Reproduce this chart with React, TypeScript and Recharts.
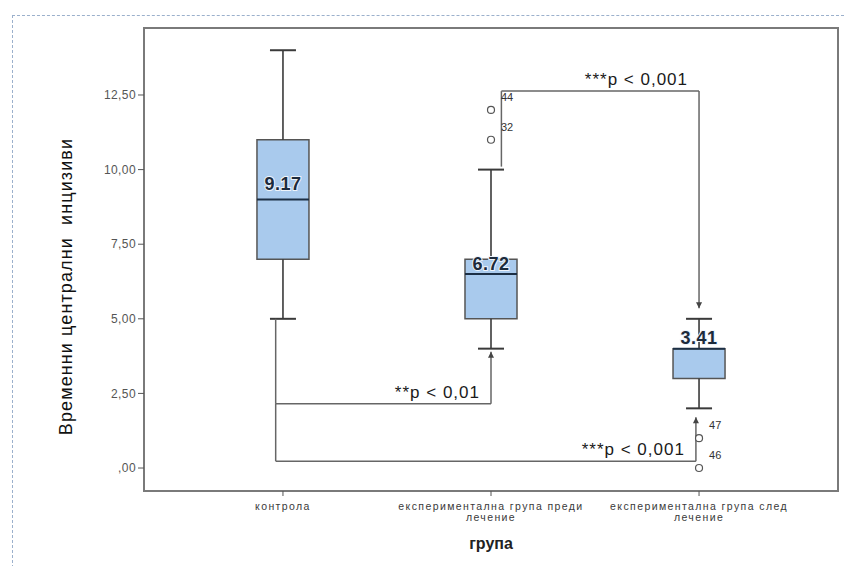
import React from "react";
import {
  ComposedChart,
  XAxis,
  YAxis,
  ReferenceArea,
  ReferenceLine,
  Scatter,
} from "recharts";

const groupLines = [
  ["контрола"],
  ["експериментална група преди", "лечение"],
  ["експериментална група след", "лечение"],
];
const groupIdx = [0, 1, 2];

// box plot statistics per group
const whiskerLow = [5, 4, 2];
const q1 = [7, 5, 3];
const median = [9, 6.5, 4];
const q3 = [11, 7, 4];
const whiskerHigh = [14, 10, 5];
const means = [9.17, 6.72, 3.41];

// outliers (case numbers shown next to them)
const outlierGroup = [1, 1, 2, 2];
const outlierValue = [12, 11, 1, 0];
const outlierCase = ["44", "32", "47", "46"];

const yTicks = [0, 2.5, 5, 7.5, 10, 12.5];

// significance brackets
const bracketText = ["**p < 0,01", "***p < 0,001", "***p < 0,001"];
const bracketFrom = [0, 0, 1];
const bracketTo = [1, 2, 2];
const bracketStart = [5, 2.15, 10.1];
const bracketLevel = [2.15, 0.23, 12.63];
const bracketEnd = [3.9, 1.7, 5.35];

// style
const X_DOMAIN: [number, number] = [-0.668, 2.668];
const Y_DOMAIN: [number, number] = [-0.77, 14.745];
const fromShift = [-0.035, -0.035, 0.05];
const toShift = [0, -0.015, 0];
const meanDy = [-4, 2.5, -22];
const BOX_HALF = 0.125;
const CAP_HALF = 0.0625;
const FONT = "'Liberation Sans', Arial, sans-serif";
const BOX_FILL = "#a9caed";
const LINE = "#3a3a3a";
const BRACKET = "#666";

const fmtY = (v: number) => (v === 0 ? ",00" : v.toFixed(2).replace(".", ","));

const meanData = means.map((m, i) => ({ x: i, y: m, text: m.toFixed(2) }));
const outlierData = outlierValue.map((v, i) => ({
  x: outlierGroup[i],
  y: v,
  id: outlierCase[i],
}));
const labelData = bracketText.map((t, i) => ({
  x: bracketTo[i] + toShift[i],
  y: bracketLevel[i],
  text: t,
}));
const arrowData = bracketEnd.map((e, i) => ({
  x: bracketTo[i] + toShift[i],
  y: e,
  up: e > bracketLevel[i],
}));

const MeanLabel = (p: any) => (
  <text
    x={p.cx}
    y={p.cy + meanDy[p.payload.x]}
    textAnchor="middle"
    fontFamily={FONT}
    fontSize={18}
    fontWeight={700}
    fill="#1c2b3c"
    stroke="#eef4fb"
    strokeWidth={2}
    paintOrder="stroke"
    letterSpacing={0.5}
  >
    {p.payload.text}
  </text>
);

const OutlierDot = (p: any) => (
  <g>
    <circle cx={p.cx} cy={p.cy} r={3.5} fill="#fff" stroke="#555" strokeWidth={1.2} />
    <text x={p.cx + 10} y={p.cy - 9} fontFamily={FONT} fontSize={11} fill="#333">
      {p.payload.id}
    </text>
  </g>
);

const BracketLabel = (p: any) => (
  <text
    x={p.cx - 11}
    y={p.cy - 6}
    textAnchor="end"
    fontFamily={FONT}
    fontSize={17}
    letterSpacing={1}
    fill="#1a1a1a"
  >
    {p.payload.text}
  </text>
);

const Arrow = (p: any) => {
  const s = p.payload.up ? 1 : -1;
  const { cx, cy } = p;
  return (
    <path
      d={`M${cx},${cy} L${cx - 3},${cy + 6 * s} L${cx + 3},${cy + 6 * s} Z`}
      fill="#444"
    />
  );
};

const XTick = (p: any) => {
  const lines = groupLines[p.payload.value] || [];
  return (
    <g>
      {lines.map((l, k) => (
        <text
          key={k}
          x={p.x}
          y={p.y + 12 + k * 11}
          textAnchor="middle"
          fontFamily={FONT}
          fontSize={10.5}
          letterSpacing={1.4}
          fill="#3a3a3a"
        >
          {l}
        </text>
      ))}
    </g>
  );
};

const YTitle = (p: any) => {
  const vb = p.viewBox || { x: 36, y: 20, width: 100, height: 463 };
  const x = vb.x + 22;
  const y = vb.y + vb.height / 2 + 27;
  return (
    <text
      x={x}
      y={y}
      transform={`rotate(-90 ${x} ${y})`}
      textAnchor="middle"
      dominantBaseline="central"
      fontFamily={FONT}
      fontSize={18}
      letterSpacing={1.1}
      fill="#111"
    >
      Временни централни{"\u00a0\u00a0"}инцизиви
    </text>
  );
};

const XTitle = (p: any) => {
  const vb = p.viewBox || { x: 136, y: 483, width: 694, height: 75 };
  return (
    <text
      x={vb.x + vb.width / 2}
      y={vb.y + 58}
      textAnchor="middle"
      fontFamily={FONT}
      fontSize={16}
      fontWeight="bold"
      fill="#222"
    >
      група
    </text>
  );
};

export default function App() {
  return (
    <div style={{ position: "relative", width: 844, height: 558, fontFamily: FONT }}>
      <div
        style={{
          position: "absolute",
          left: 4,
          top: 7,
          right: -12,
          bottom: -12,
          borderTop: "1px dashed #9bb0cc",
          borderLeft: "1px dashed #9bb0cc",
          pointerEvents: "none",
        }}
      />
      <ComposedChart
        width={844}
        height={558}
        margin={{ top: 20, right: 14, bottom: 0, left: 36 }}
        style={{ position: "absolute", left: 0, top: 0 }}
      >
        <XAxis
          dataKey="x"
          type="number"
          domain={X_DOMAIN}
          allowDataOverflow
          ticks={groupIdx}
          tick={<XTick />}
          tickSize={5}
          tickLine={{ stroke: "#555" }}
          axisLine={false}
          height={75}
          label={{ content: XTitle }}
        />
        <YAxis
          type="number"
          domain={Y_DOMAIN}
          allowDataOverflow
          ticks={yTicks}
          tickFormatter={fmtY}
          tick={{ fill: "#555", fontSize: 12, fontFamily: FONT, letterSpacing: 0.4 }}
          tickSize={6}
          tickLine={{ stroke: "#555" }}
          axisLine={false}
          width={100}
          label={{ content: YTitle }}
        />
        <ReferenceArea
          x1={X_DOMAIN[0]}
          x2={X_DOMAIN[1]}
          y1={Y_DOMAIN[0]}
          y2={Y_DOMAIN[1]}
          ifOverflow="visible"
          fill="#ffffff"
          fillOpacity={0}
          stroke="#7a7a7a"
          strokeWidth={2}
        />

        {groupIdx.map((i) => (
          <ReferenceArea
            key={`box${i}`}
            x1={i - BOX_HALF}
            x2={i + BOX_HALF}
            y1={q1[i]}
            y2={q3[i]}
            fill={BOX_FILL}
            fillOpacity={1}
            stroke="#555"
            strokeWidth={1.5}
          />
        ))}
        {groupIdx.map((i) => (
          <ReferenceLine
            key={`wl${i}`}
            segment={[{ x: i, y: whiskerLow[i] }, { x: i, y: q1[i] }]}
            stroke={LINE}
            strokeWidth={1.6}
          />
        ))}
        {groupIdx.map((i) => (
          <ReferenceLine
            key={`wh${i}`}
            segment={[{ x: i, y: q3[i] }, { x: i, y: whiskerHigh[i] }]}
            stroke={LINE}
            strokeWidth={1.6}
          />
        ))}
        {groupIdx.map((i) => (
          <ReferenceLine
            key={`cl${i}`}
            segment={[{ x: i - CAP_HALF, y: whiskerLow[i] }, { x: i + CAP_HALF, y: whiskerLow[i] }]}
            stroke={LINE}
            strokeWidth={2}
          />
        ))}
        {groupIdx.map((i) => (
          <ReferenceLine
            key={`ch${i}`}
            segment={[{ x: i - CAP_HALF, y: whiskerHigh[i] }, { x: i + CAP_HALF, y: whiskerHigh[i] }]}
            stroke={LINE}
            strokeWidth={2}
          />
        ))}
        {groupIdx.map((i) => (
          <ReferenceLine
            key={`md${i}`}
            segment={[{ x: i - BOX_HALF, y: median[i] }, { x: i + BOX_HALF, y: median[i] }]}
            stroke="#1c2f45"
            strokeWidth={2}
          />
        ))}

        {bracketText.map((_, i) => {
          const xa = bracketFrom[i] + fromShift[i];
          return (
            <ReferenceLine
              key={`bv1${i}`}
              segment={[{ x: xa, y: bracketStart[i] }, { x: xa, y: bracketLevel[i] }]}
              stroke={BRACKET}
              strokeWidth={1.5}
            />
          );
        })}
        {bracketText.map((_, i) => {
          const xa = bracketFrom[i] + fromShift[i];
          const xb = bracketTo[i] + toShift[i];
          return (
            <ReferenceLine
              key={`bh${i}`}
              segment={[{ x: xa, y: bracketLevel[i] }, { x: xb, y: bracketLevel[i] }]}
              stroke={BRACKET}
              strokeWidth={1.5}
            />
          );
        })}
        {bracketText.map((_, i) => {
          const xb = bracketTo[i] + toShift[i];
          return (
            <ReferenceLine
              key={`bv2${i}`}
              segment={[{ x: xb, y: bracketLevel[i] }, { x: xb, y: bracketEnd[i] }]}
              stroke={BRACKET}
              strokeWidth={1.5}
            />
          );
        })}

        <Scatter data={arrowData} dataKey="y" shape={Arrow} isAnimationActive={false} />
        <Scatter data={outlierData} dataKey="y" shape={OutlierDot} isAnimationActive={false} />
        <Scatter data={meanData} dataKey="y" shape={MeanLabel} isAnimationActive={false} />
        <Scatter data={labelData} dataKey="y" shape={BracketLabel} isAnimationActive={false} />
      </ComposedChart>
    </div>
  );
}
